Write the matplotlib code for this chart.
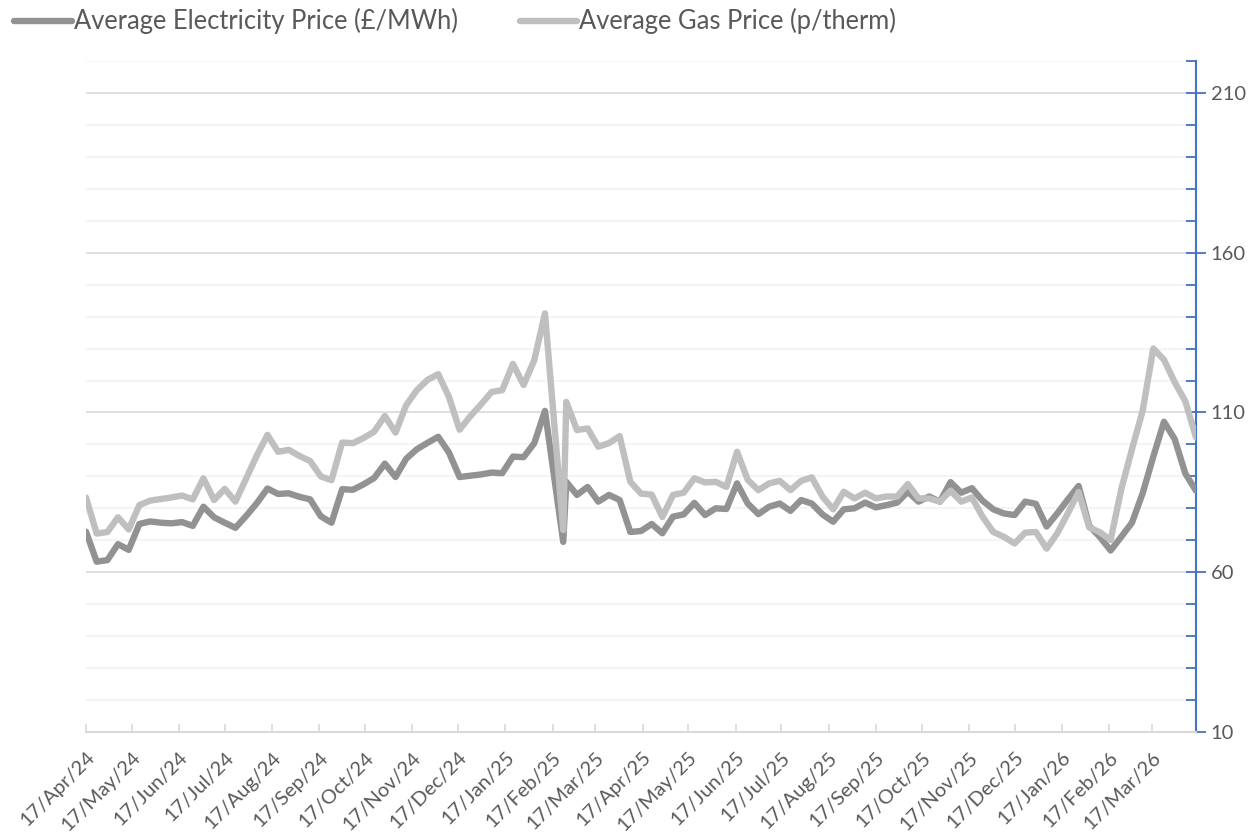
import matplotlib
matplotlib.use('Agg')
import matplotlib.pyplot as plt
import matplotlib.dates as mdates
from matplotlib.lines import Line2D
from matplotlib.ticker import MultipleLocator, FixedLocator
import pandas as pd

plt.rcParams['font.family'] = ['Lato', 'DejaVu Sans']

# ---- data ----
dates = list(pd.date_range('2024-04-17', periods=105, freq='7D'))
dates[44] = pd.Timestamp('2025-02-24')

electricity = [
    72.7, 63.3, 63.8, 68.8, 67.0, 75.1, 75.9, 75.5, 75.3, 75.7,
    74.5, 80.5, 77.2, 75.5, 73.9, 77.6, 81.6, 86.2, 84.5, 84.7,
    83.6, 82.8, 77.5, 75.5, 86.0, 85.8, 87.5, 89.5, 94.0, 89.8,
    95.5, 98.5, 100.5, 102.4, 97.5, 89.8, 90.2, 90.6, 91.2, 91.0,
    96.2, 96.0, 100.4, 110.5, 69.5, 88.3, 84.2, 86.7, 82.1, 84.2,
    82.6, 72.6, 72.9, 75.1, 72.2, 77.4, 78.1, 81.7, 77.9, 80.0,
    79.8, 87.8, 81.5, 78.2, 80.5, 81.5, 79.2, 82.6, 81.5, 78.1,
    75.8, 79.7, 80.0, 81.8, 80.3, 81.0, 81.8, 85.2, 82.1, 83.7,
    82.1, 88.2, 84.9, 86.3, 82.4, 79.7, 78.4, 77.9, 82.1, 81.4,
    74.3, 78.4, 82.8, 87.0, 74.5, 71.0, 66.8, 71.1, 75.5, 84.7,
    96.2, 107.1, 101.7, 90.9, 85.5,
]

gas = [
    83.4, 72.1, 72.6, 77.2, 73.4, 81.0, 82.4, 82.9, 83.4, 84.0,
    82.8, 89.4, 82.6, 86.1, 82.1, 89.3, 96.5, 103.0, 97.7, 98.3,
    96.4, 94.8, 90.0, 88.8, 100.6, 100.4, 102.0, 104.0, 108.9, 103.7,
    112.3, 117.0, 120.2, 122.0, 114.9, 104.6, 108.8, 112.5, 116.4, 117.0,
    125.2, 118.6, 126.4, 141.0, 73.2, 113.3, 104.5, 105.0, 99.3, 100.4,
    102.6, 88.3, 84.6, 84.3, 77.3, 84.2, 84.9, 89.4, 88.1, 88.3,
    86.7, 97.7, 88.9, 85.7, 87.8, 88.6, 85.7, 88.6, 89.7, 83.7,
    79.7, 85.2, 83.1, 84.9, 83.1, 83.7, 83.7, 87.6, 83.1, 83.1,
    82.1, 85.5, 82.1, 83.4, 77.4, 72.6, 71.1, 69.0, 72.4, 72.6,
    67.4, 72.2, 78.5, 85.1, 74.0, 72.5, 70.1, 86.0, 98.5, 110.5,
    130.0, 126.5, 119.5, 113.5, 102.2,
]

series_names = ['Average Electricity Price (£/MWh)', 'Average Gas Price (p/therm)']
series_colors = ['#929292', '#BFBFBF']
y_ticks = [10, 60, 110, 160, 210]
x_tick_dates = pd.date_range('2024-04-01', '2026-03-01', freq='MS') + pd.Timedelta(days=16)

# ---- figure ----
W, H = 1256, 840
fig = plt.figure(figsize=(W / 100, H / 100), dpi=100)
ax = fig.add_axes([86 / W, 1 - 732 / H, (1196 - 86) / W, (732 - 61) / H])

text_col = '#595959'
lw = 4.6
for vals, col in zip([electricity, gas], series_colors):
    ax.plot(dates, vals, color=col, lw=lw, solid_joinstyle='round',
            solid_capstyle='round', zorder=3)

ax.set_xlim(dates[0], dates[-1])
ax.set_ylim(10, 220)

# y axis on right
ax.yaxis.tick_right()
ax.yaxis.set_major_locator(FixedLocator(y_ticks))
ax.yaxis.set_minor_locator(MultipleLocator(10))
ax.tick_params(axis='y', which='major', direction='inout', length=15, width=1.3,
               color='#4472C4', labelsize=14.5, labelcolor=text_col, pad=3)
ax.tick_params(axis='y', which='minor', direction='in', length=7, width=1.3,
               color='#4472C4')
ax.tick_params(axis='y', which='both', left=False, labelleft=False)

ax.grid(axis='y', which='major', color='#D9D9D9', lw=1.2, zorder=0)
ax.grid(axis='y', which='minor', color='#F2F2F2', lw=1.2, zorder=0)

# x axis
ax.xaxis.set_major_locator(FixedLocator(mdates.date2num(x_tick_dates)))
ax.xaxis.set_major_formatter(mdates.DateFormatter('%d/%b/%y'))
ax.tick_params(axis='x', which='major', direction='in', length=6, width=1.2,
               color='#D9D9D9', labelsize=14.5, labelcolor=text_col, pad=12)
for lab in ax.get_xticklabels():
    lab.set_rotation(45)
    lab.set_ha('right')
    lab.set_va('top')
    lab.set_rotation_mode('anchor')

for s in ['top', 'left']:
    ax.spines[s].set_visible(False)
ax.spines['bottom'].set_color('#D9D9D9')
ax.spines['bottom'].set_linewidth(1.5)
ax.spines['right'].set_color('#4472C4')
ax.spines['right'].set_linewidth(1.5)
ax.spines['right'].set_bounds(10, 220)

# legend (manual, top-left)
leg_y = 1 - 21 / H
leg_x = [(14, 72), (520, 577)]
for (x0, x1), name, col in zip(leg_x, series_names, series_colors):
    fig.add_artist(Line2D([x0 / W, x1 / W], [leg_y, leg_y], transform=fig.transFigure,
                          color=col, lw=lw, solid_capstyle='round'))
    fig.text((x1 + 2) / W, leg_y, name, ha='left', va='center', fontsize=18.4,
             color=text_col)

fig.savefig('out.png', dpi=100)
